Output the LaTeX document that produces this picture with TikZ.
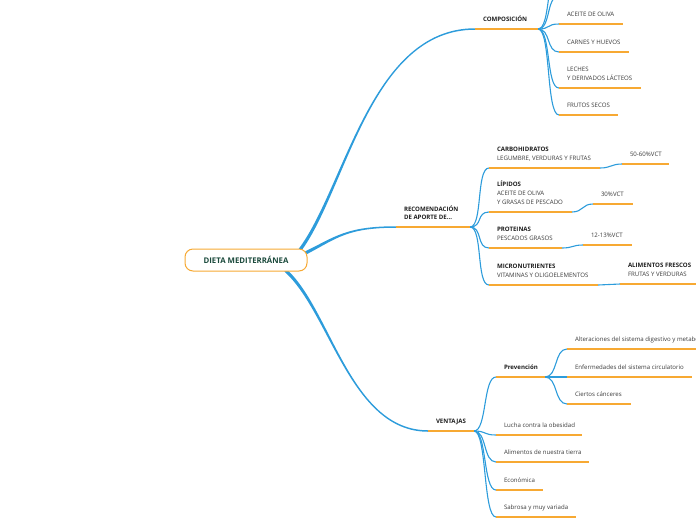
\documentclass[tikz,border=0pt]{standalone}
\usepackage{fontspec}
\setmainfont{Open Sans}
\usetikzlibrary{backgrounds,calc}
\definecolor{brblue}{HTML}{2D9CDB}
\definecolor{ulorange}{HTML}{F7A933}
\definecolor{txtgray}{HTML}{3A3A3A}
\definecolor{ttlblack}{HTML}{1E1E1E}
\definecolor{dgreen}{HTML}{1B4A3C}
\newcommand\tbox[2]{\makebox[#1pt][l]{\begin{tabular}[b]{@{}l@{}}#2\end{tabular}}}
\newcommand\ttlb[1]{\textcolor{ttlblack}{\bfseries #1}}
\newcommand\mmlink[2]{\draw[br] (#1) .. controls +(13,0) and +(-13,0) .. (#2);}
\newcommand\mmshort[2]{\draw[br] (#1) .. controls +(11,0) and +(-11,0) .. (#2);}
\begin{document}
\begin{tikzpicture}[x=1pt,y=-1pt,
  topic/.style={anchor=south west, inner xsep=8pt, inner ysep=7.5pt, outer sep=0pt,
    text depth=0pt, font=\fontsize{6.1}{9}\selectfont, text=txtgray},
  uline/.style={draw=ulorange, line width=1.5pt},
  br/.style={draw=brblue, line width=1.1pt},
  centerbox/.style={draw=ulorange, line width=1pt, rounded corners=8pt, fill=white,
    minimum width=122pt, minimum height=22pt, inner sep=0pt,
    font=\fontsize{7.8}{9}\selectfont\bfseries, text=dgreen}]
\useasboundingbox (0,0) rectangle (696,520);
\clip (0,0) rectangle (696,520);

% central topic
\node[centerbox] (dieta) at (246,260) {DIETA MEDITERRÁNEA};

% COMPOSICION
\node[topic] (comp) at (475,29) {\tbox{47}{\ttlb{COMPOSICIÓN}}};
\coordinate (cup1) at (559,-4);
\coordinate (cup2) at (559,-31);
\node[topic] (aceite) at (559,24) {\tbox{48}{ACEITE DE OLIVA}};
\node[topic] (carnes) at (559,52) {\tbox{54}{CARNES Y HUEVOS}};
\node[topic] (leches) at (559,88) {\tbox{66}{LECHES\\Y DERIVADOS LÁCTEOS}};
\node[topic] (frutos) at (559,115) {\tbox{43}{FRUTOS SECOS}};

% RECOMENDACION
\node[topic] (recom) at (396,227) {\tbox{58}{\ttlb{RECOMENDACIÓN}\\[-1pt]\ttlb{DE APORTE DE...}}};
\node[topic] (carbo) at (489,168) {\tbox{95}{\ttlb{CARBOHIDRATOS}\\LEGUMBRE, VERDURAS Y FRUTAS}};
\node[topic] (vcta) at (622,164) {\tbox{31}{50-60\%VCT}};
\node[topic] (lipidos) at (489,212) {\tbox{67}{\ttlb{LÍPIDOS}\\ACEITE DE OLIVA\\Y GRASAS DE PESCADO}};
\node[topic] (vctb) at (593,204) {\tbox{24}{30\%VCT}};
\node[topic] (prot) at (489,248) {\tbox{57}{\ttlb{PROTEINAS}\\PESCADOS GRASOS}};
\node[topic] (vctc) at (583,245) {\tbox{33}{12-13\%VCT}};
\node[topic] (micro) at (489,285) {\tbox{93}{\ttlb{MICRONUTRIENTES}\\VITAMINAS Y OLIGOELEMENTOS}};
\node[topic] (alim) at (620,284) {\tbox{69}{\ttlb{ALIMENTOS FRESCOS}\\FRUTAS Y VERDURAS}};

% VENTAJAS
\node[topic] (vent) at (428,431) {\tbox{30}{\ttlb{VENTAJAS}}};
\node[topic] (prev) at (496,377) {\tbox{33}{\ttlb{Prevención}}};
\node[topic] (alt) at (567,349) {\tbox{184}{Alteraciones del sistema digestivo y metabólico}};
\node[topic] (enf) at (567,377) {\tbox{109}{Enfermedades del sistema circulatorio}};
\node[topic] (cie) at (567,404) {\tbox{48}{Ciertos cánceres}};
\node[topic] (lucha) at (496,435) {\tbox{70}{Lucha contra la obesidad}};
\node[topic] (tierra) at (496,462) {\tbox{77}{Alimentos de nuestra tierra}};
\node[topic] (econ) at (496,490) {\tbox{31}{Económica}};
\node[topic] (sab) at (496,517) {\tbox{64}{Sabrosa y muy variada}};

% start points of the main branches
\coordinate (sComp) at ([xshift=-8pt,yshift=-2pt]dieta.north east);
\coordinate (sRec) at ([xshift=-2pt,yshift=7pt]dieta.east);
\coordinate (sVen) at ([xshift=-22pt,yshift=1pt]dieta.south east);

\begin{scope}[on background layer]
\clip (0,0) rectangle (696,520);
% main branches (tapered)
\fill[brblue] ($(sComp)+(1.3,1)$) .. controls ($(sComp)+(46,-61)+(1,0.8)$) and ($(comp.south west)+(-105,0.75)$) .. ($(comp.south west)+(0,0.75)$)
  -- ($(comp.south west)+(0,-0.75)$) .. controls ($(comp.south west)+(-105,-0.75)$) and ($(sComp)+(46,-61)+(-1,-0.8)$) .. ($(sComp)+(-1.3,-1)$) -- cycle;
\fill[brblue] ($(sRec)+(0.72,1.43)$) .. controls ($(sRec)+(30,-15)+(0.5,1.1)$) and ($(recom.south west)+(-50,0.75)$) .. ($(recom.south west)+(0,0.75)$)
  -- ($(recom.south west)+(0,-0.75)$) .. controls ($(recom.south west)+(-50,-0.75)$) and ($(sRec)+(30,-15)+(-0.5,-1.1)$) .. ($(sRec)+(-0.72,-1.43)$) -- cycle;
\fill[brblue] ($(sVen)+(-1.06,1.2)$) .. controls ($(sVen)+(45,40)+(-0.9,1)$) and ($(vent.south west)+(-78,0.75)$) .. ($(vent.south west)+(0,0.75)$)
  -- ($(vent.south west)+(0,-0.75)$) .. controls ($(vent.south west)+(-78,-0.75)$) and ($(sVen)+(45,40)+(0.9,-1)$) .. ($(sVen)+(1.06,-1.2)$) -- cycle;
% composicion children
\mmlink{comp.south east}{cup2}
\mmlink{comp.south east}{cup1}
\mmlink{comp.south east}{aceite.south west}
\mmlink{comp.south east}{carnes.south west}
\mmlink{comp.south east}{leches.south west}
\mmlink{comp.south east}{frutos.south west}
% recomendacion children
\mmlink{recom.south east}{carbo.south west}
\mmlink{recom.south east}{lipidos.south west}
\mmlink{recom.south east}{prot.south west}
\mmlink{recom.south east}{micro.south west}
\mmshort{carbo.south east}{vcta.south west}
\mmshort{lipidos.south east}{vctb.south west}
\mmshort{prot.south east}{vctc.south west}
\mmshort{micro.south east}{alim.south west}
% ventajas children
\mmlink{vent.south east}{prev.south west}
\mmlink{vent.south east}{lucha.south west}
\mmlink{vent.south east}{tierra.south west}
\mmlink{vent.south east}{econ.south west}
\mmlink{vent.south east}{sab.south west}
\mmlink{prev.south east}{alt.south west}
\mmlink{prev.south east}{enf.south west}
\mmlink{prev.south east}{cie.south west}
\end{scope}

% underlines
\foreach \n in {comp,aceite,carnes,leches,frutos,recom,carbo,vcta,lipidos,vctb,prot,vctc,micro,alim,vent,prev,alt,enf,cie,lucha,tierra,econ,sab}
  \draw[uline] (\n.south west) -- (\n.south east);
\end{tikzpicture}
\end{document}
